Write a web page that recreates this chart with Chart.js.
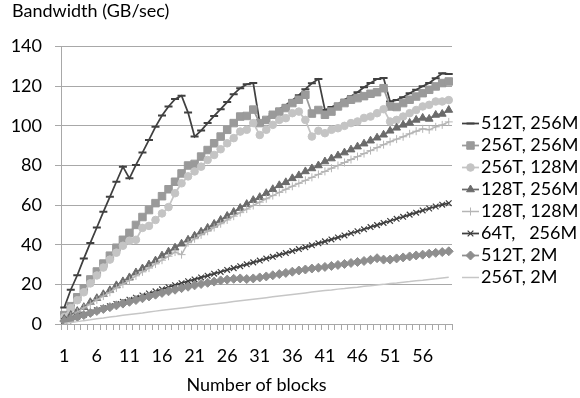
<!DOCTYPE html>
<html>
<head>
<meta charset="utf-8">
<script src="https://cdn.jsdelivr.net/npm/chart.js@4.4.0/dist/chart.umd.min.js"></script>
<style>
  html, body { margin: 0; padding: 0; background: #fff; }
  #wrap { position: relative; width: 580px; height: 398px; }
</style>
</head>
<body>
<div id="wrap"><canvas id="bwChart"></canvas></div>
<script>
// categories: number of blocks
const blocks = ['1','2','3','4','5','6','7','8','9','10',
  '11','12','13','14','15','16','17','18','19','20',
  '21','22','23','24','25','26','27','28','29','30',
  '31','32','33','34','35','36','37','38','39','40',
  '41','42','43','44','45','46','47','48','49','50',
  '51','52','53','54','55','56','57','58','59','60'];

// bandwidth (GB/sec) per configuration
const t512m256 = [8.3, 17.3, 24.6, 33, 40.9, 48.7, 56.6, 64.2, 71.8, 79.4,
  73.5, 80.3, 86.5, 92.9, 99.5, 105.2, 109.8, 113.5, 115.2, 106.7,
  94.6, 97.6, 101.4, 105, 108.4, 112, 116, 119, 121, 121.6,
  101.5, 104, 106, 108.5, 110.5, 113, 115.5, 118.5, 121.5, 123.6,
  108, 109.5, 111, 113.2, 115, 117, 119.5, 121.6, 123.6, 124.1,
  112.3, 113, 114.5, 116.5, 118.2, 120, 121.6, 124, 126.5, 126.2];
const t256m256 = [4.5, 9, 13.5, 18, 22.5, 26.5, 30.5, 34.5, 38.5, 42.5,
  46, 50, 54, 57.5, 61, 64.5, 68, 71.8, 76, 80,
  80.8, 84.5, 87.8, 91.2, 94.6, 98, 101.4, 104.7, 105, 108.2,
  101.4, 103, 105.6, 107.2, 109, 111.5, 113.2, 115.7, 106.2, 108,
  105.6, 107.2, 109.8, 111.5, 113.2, 114, 115, 116.2, 117, 119,
  109.8, 109.5, 111.5, 113.2, 114.8, 116.5, 118.2, 119.9, 121.6, 122.4];
const t256m128 = [3.5, 8, 12, 16, 20.5, 24.5, 28.5, 32.5, 36, 39.5,
  42, 42.5, 48.5, 49.5, 52.5, 55.8, 59, 66, 71, 74.5,
  77, 79.4, 82.8, 85.3, 88.2, 91.2, 93.8, 97.1, 98, 101.4,
  95.4, 98, 100.5, 103, 103.9, 106.4, 107.2, 103, 94.6, 97.5,
  96.3, 98, 98.8, 100, 101.4, 102.2, 104, 104.7, 106.4, 108.4,
  102.2, 103, 104.7, 106.4, 108, 109.8, 110.6, 112.3, 112.3, 113];
const t128m256 = [2.5, 4.5, 6.5, 8.5, 11, 13, 15, 17, 19.5, 21.5,
  23.5, 26, 28, 30, 32, 34.5, 36.5, 38.5, 40.5, 42.5,
  44.5, 46.5, 48.5, 50.5, 52.5, 54.5, 56.5, 58.5, 60.5, 62.5,
  64, 66, 68, 70, 71.5, 73.5, 75, 77, 78.5, 80,
  82, 83.5, 85, 86.5, 88, 89.5, 91, 92.5, 94, 95.5,
  97.5, 99, 100.5, 101.5, 103, 104, 103.5, 105.5, 106, 108];
const t128m128 = [1.8, 3.9, 6, 8.1, 10, 12.2, 14.1, 16, 18.2, 20.1,
  22, 24.3, 26.3, 28.2, 30.3, 32.2, 34.2, 36.3, 35, 41,
  43, 45, 46.8, 48.7, 50.6, 52.5, 54.4, 56.2, 58, 59.8,
  61.5, 63.2, 64.8, 66.4, 68, 69.5, 71, 72.5, 74, 75.5,
  77, 78.6, 80, 81.5, 83, 84.5, 86, 87.5, 89, 90.5,
  92, 93.3, 94.5, 96, 97.3, 98.5, 98, 99.5, 100.5, 102];
const t64m256 = [1.5, 2.6, 3.7, 4.7, 5.8, 6.9, 8, 9, 10.1, 11.2,
  12.3, 13.3, 14.4, 15.4, 16.5, 17.5, 18.6, 19.6, 20.6, 21.6,
  22.5, 23.5, 24.4, 25.4, 26.3, 27.3, 28.2, 29.2, 30.1, 31.1,
  32, 33, 33.9, 34.9, 35.8, 36.8, 37.8, 38.7, 39.7, 40.7,
  41.7, 42.7, 43.7, 44.7, 45.8, 46.8, 47.8, 48.9, 49.9, 51,
  52, 53.1, 54.1, 55.2, 56.2, 57.3, 58.3, 59.3, 60.2, 61];
const t512m2 = [1.5, 2.5, 3.5, 4.5, 5.6, 6.6, 7.6, 8.5, 9.4, 10.3,
  11.2, 12.1, 13, 13.9, 14.8, 15.7, 16.5, 17.3, 18.1, 18.8,
  19.5, 20.2, 20.8, 21.4, 22, 22.4, 22.8, 23, 22.7, 23,
  23.5, 24, 24.6, 25.2, 25.8, 26.4, 27, 27.5, 28, 28.4,
  28.8, 29.3, 29.8, 30.3, 30.8, 31.3, 31.8, 32.4, 33.2, 32.5,
  32.5, 33.1, 33.6, 34.1, 34.6, 35, 35.5, 35.9, 36.3, 36.7];
const t256m2 = [0.3, 0.8, 1.2, 1.7, 2.1, 2.6, 3, 3.5, 3.9, 4.4,
  4.8, 5.2, 5.6, 6.1, 6.5, 6.9, 7.3, 7.7, 8.1, 8.5,
  8.9, 9.3, 9.7, 10.1, 10.5, 10.9, 11.3, 11.7, 12.1, 12.5,
  12.9, 13.3, 13.7, 14.1, 14.5, 14.9, 15.3, 15.7, 16.1, 16.5,
  16.9, 17.2, 17.6, 17.9, 18.3, 18.6, 19, 19.3, 19.7, 20,
  20.4, 20.7, 21.1, 21.4, 21.8, 22.1, 22.5, 22.8, 23.2, 23.6];

const yTicks = [0, 20, 40, 60, 80, 100, 120, 140];

const FONT = 'Lato';
const gridGray = '#a8a8a8';

function series(label, data, color, style, radius, ptWidth, lineWidth, order) {
  return {
    label: label,
    data: data,
    borderColor: color,
    backgroundColor: color,
    borderWidth: lineWidth,
    pointStyle: style,
    pointRadius: radius,
    pointBorderWidth: ptWidth,
    pointBackgroundColor: color,
    pointBorderColor: color,
    pointHoverRadius: radius,
    tension: 0,
    order: order
  };
}

// legend on the right: line sample + marker + label
const sideLegend = {
  id: 'sideLegend',
  afterDraw(chart) {
    const ctx = chart.ctx;
    const x0 = chart.chartArea.right + 10;
    ctx.save();
    ctx.font = '18px ' + FONT;
    ctx.textBaseline = 'middle';
    ctx.textAlign = 'left';
    chart.data.datasets.forEach(function(ds, i) {
      const y = 123.5 + i * 22;
      ctx.strokeStyle = ds.borderColor;
      ctx.lineWidth = ds.borderWidth;
      ctx.beginPath();
      ctx.moveTo(x0, y);
      ctx.lineTo(x0 + 17, y);
      ctx.stroke();
      if (ds.pointRadius > 0) {
        ctx.fillStyle = ds.pointBackgroundColor;
        ctx.strokeStyle = ds.pointBorderColor;
        ctx.lineWidth = ds.pointBorderWidth;
        Chart.helpers.drawPoint(ctx, {
          pointStyle: ds.pointStyle,
          radius: ds.pointRadius,
          borderWidth: ds.pointBorderWidth,
          rotation: 0
        }, x0 + 8.5, y);
      }
      ctx.fillStyle = '#000';
      ctx.fillText(ds.label, x0 + 19, y);
    });
    ctx.restore();
  }
};

const ctx = document.getElementById('bwChart').getContext('2d');
new Chart(ctx, {
  type: 'line',
  data: {
    labels: blocks,
    datasets: [
      series('512T, 256M', t512m256, '#404040', 'line', 4, 2, 1.75, 8),
      series('256T, 256M', t256m256, '#9a9a9a', 'rect', 5.3, 1, 1.75, 7),
      series('256T, 128M', t256m128, '#c4c4c4', 'circle', 3.8, 1, 1.75, 6),
      series('128T, 256M', t128m256, '#6b6b6b', 'triangle', 4.5, 1, 1.75, 5),
      series('128T, 128M', t128m128, '#b5b5b5', 'cross', 4, 1, 1.5, 4),
      series('64T,   256M', t64m256, '#3f3f3f', 'crossRot', 4, 1.2, 1.75, 3),
      series('512T, 2M', t512m2, '#8e8e8e', 'rectRot', 4.5, 1, 1.75, 2),
      series('256T, 2M', t256m2, '#c6c6c6', 'circle', 0, 0, 1.5, 1)
    ]
  },
  options: {
    responsive: true,
    maintainAspectRatio: false,
    animation: false,
    devicePixelRatio: 1,
    layout: {
      padding: { left: 12, right: 128, top: 0, bottom: 0 }
    },
    plugins: {
      legend: { display: false },
      tooltip: { enabled: false },
      title: {
        display: true,
        text: 'Bandwidth (GB/sec)',
        align: 'start',
        color: '#000',
        font: { family: FONT, size: 18, weight: 'normal' },
        padding: { top: 0, bottom: 25 }
      }
    },
    scales: {
      x: {
        type: 'category',
        offset: true,
        grid: {
          offset: true,
          drawOnChartArea: false,
          drawTicks: true,
          tickLength: 6,
          color: gridGray
        },
        border: { display: true, color: gridGray },
        ticks: {
          autoSkip: false,
          maxRotation: 0,
          padding: 15,
          color: '#000',
          font: { family: FONT, size: 18 },
          callback: function(v, i) { return i % 5 === 0 ? blocks[i] : ''; }
        },
        title: {
          display: true,
          text: 'Number of blocks',
          color: '#000',
          font: { family: FONT, size: 18 },
          padding: { top: 0, bottom: 2 }
        },
        afterFit: function(s) { s.height = 74; }
      },
      y: {
        min: yTicks[0],
        max: yTicks[yTicks.length - 1],
        grid: { color: gridGray, tickLength: 6, drawTicks: true },
        border: { display: true, color: gridGray },
        ticks: {
          stepSize: 20,
          padding: 13,
          color: '#000',
          font: { family: FONT, size: 18 }
        },
        afterFit: function(s) { s.width = 49; }
      }
    }
  },
  plugins: [sideLegend]
});
</script>
</body>
</html>
